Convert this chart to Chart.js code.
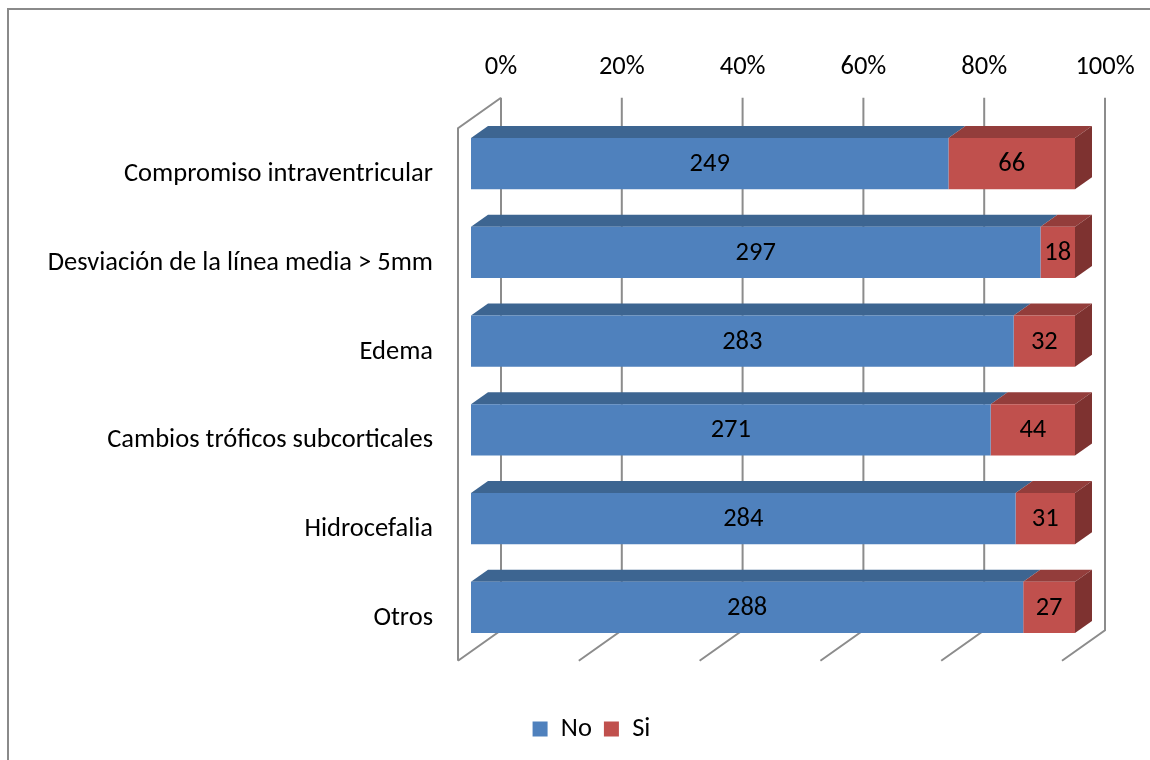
<!DOCTYPE html>
<html>
<head>
<meta charset="utf-8">
<title>Hallazgos tomográficos</title>
<script src="https://cdn.jsdelivr.net/npm/chart.js@4.4.1/dist/chart.umd.min.js"></script>
<style>
  html, body { margin: 0; padding: 0; background: #fff; overflow: hidden; }
  #frame { position: absolute; left: 7px; top: 8px; width: 1200px; height: 800px; border: 2px solid #8a8a8a; }
  #wrap { position: absolute; left: 0; top: 0; width: 1150px; height: 760px; }
</style>
</head>
<body>
<div id="frame"></div>
<div id="wrap"><canvas id="myChart" width="1150" height="760"></canvas></div>
<script>
const categories = [
  "Compromiso intraventricular",
  "Desviación de la línea media > 5mm",
  "Edema",
  "Cambios tróficos subcorticales",
  "Hidrocefalia",
  "Otros"
];
const noValues = [249, 297, 283, 271, 284, 288];
const siValues = [66, 18, 32, 44, 31, 27];
const tickValues = [0, 20, 40, 60, 80, 100];

const FONT = "Calibri, Carlito, Lato, sans-serif";
const FONT_SIZE = 26.5;
const GRID = "#8c8c8c";
// bar depth and wall offsets (px) for the fake 3d look
const BAR_DX = 17, BAR_DY = -12;
const BACK_DX = 30, BACK_DY = -21.5;
const FRONT_DX = -13, FRONT_DY = 9;
const LEGEND_SHIFT = 44;

const totals = noValues.map((v, i) => v + siValues[i]);
const toPct = (arr) => arr.map((v, i) => (v / totals[i]) * 100);
const rawValues = [noValues, siValues];

const faces = [
  { top: "#3d6591", side: "#35577e" },
  { top: "#933d3b", side: "#7e3230" }
];

const box3d = {
  id: "box3d",
  afterLayout(chart) {
    // legend sits a bit right of centre in the original
    chart.legend.left += LEGEND_SHIFT;
    chart.legend.right += LEGEND_SHIFT;
  },
  beforeDatasetsDraw(chart) {
    const ctx = chart.ctx;
    const xs = chart.scales.x;
    const { top, bottom } = chart.chartArea;
    ctx.save();
    ctx.strokeStyle = GRID;
    ctx.lineWidth = 2;
    ctx.beginPath();
    tickValues.forEach((v) => {
      const px = xs.getPixelForValue(v);
      ctx.moveTo(px + BACK_DX, top + BACK_DY);
      ctx.lineTo(px + BACK_DX, bottom + BACK_DY);
      ctx.lineTo(px + FRONT_DX, bottom + FRONT_DY);
    });
    const x0 = xs.getPixelForValue(0);
    ctx.moveTo(x0 + FRONT_DX, bottom + FRONT_DY);
    ctx.lineTo(x0 + FRONT_DX, top + FRONT_DY);
    ctx.lineTo(x0 + BACK_DX, top + BACK_DY);
    ctx.stroke();

    chart.data.datasets.forEach((ds, di) => {
      const meta = chart.getDatasetMeta(di);
      meta.data.forEach((bar) => {
        const left = Math.min(bar.base, bar.x);
        const right = Math.max(bar.base, bar.x);
        const t = bar.y - bar.height / 2;
        const b = bar.y + bar.height / 2;
        ctx.fillStyle = faces[di].top;
        ctx.beginPath();
        ctx.moveTo(left, t);
        ctx.lineTo(right, t);
        ctx.lineTo(right + BAR_DX, t + BAR_DY);
        ctx.lineTo(left + BAR_DX, t + BAR_DY);
        ctx.closePath();
        ctx.fill();
        if (di === chart.data.datasets.length - 1) {
          ctx.fillStyle = faces[di].side;
          ctx.beginPath();
          ctx.moveTo(right, t);
          ctx.lineTo(right + BAR_DX, t + BAR_DY);
          ctx.lineTo(right + BAR_DX, b + BAR_DY);
          ctx.lineTo(right, b);
          ctx.closePath();
          ctx.fill();
        }
      });
    });
    ctx.restore();
  },
  afterDatasetsDraw(chart) {
    const ctx = chart.ctx;
    ctx.save();
    ctx.fillStyle = "#000";
    ctx.font = FONT_SIZE + "px " + FONT;
    ctx.textAlign = "center";
    ctx.textBaseline = "middle";
    chart.data.datasets.forEach((ds, di) => {
      chart.getDatasetMeta(di).data.forEach((bar, i) => {
        const cx = (bar.base + bar.x) / 2;
        ctx.fillText(String(rawValues[di][i]), cx, bar.y + 1);
      });
    });
    ctx.restore();
  }
};

const ctx = document.getElementById("myChart").getContext("2d");
const chart = new Chart(ctx, {
  type: "bar",
  data: {
    labels: categories,
    datasets: [
      {
        label: "No",
        data: toPct(noValues),
        backgroundColor: "#4f81bd",
        xAxisID: "x",
        barPercentage: 0.577,
        categoryPercentage: 1
      },
      {
        label: "Si",
        data: toPct(siValues),
        backgroundColor: "#c0504d",
        xAxisID: "x",
        barPercentage: 0.577,
        categoryPercentage: 1
      }
    ]
  },
  options: {
    indexAxis: "y",
    responsive: false,
    animation: false,
    devicePixelRatio: 1,
    layout: { padding: { left: 20, right: 75, top: 0, bottom: 7.75 } },
    scales: {
      x: {
        position: "top",
        stacked: true,
        min: 0,
        max: 100,
        grid: { display: false, drawTicks: false },
        border: { display: false },
        ticks: {
          stepSize: 20,
          padding: 36.4,
          labelOffset: BACK_DX,
          color: "#000",
          font: { family: FONT, size: FONT_SIZE },
          callback: (v) => v + "%"
        },
        afterFit: (s) => { s.height = 119.3; }
      },
      gap: {
        type: "linear",
        axis: "x",
        position: "bottom",
        grid: { display: false, drawTicks: false },
        border: { display: false },
        ticks: { display: false },
        afterFit: (s) => { s.height = 52.05; }
      },
      y: {
        stacked: true,
        grid: { display: false, drawTicks: false },
        border: { display: false },
        ticks: {
          padding: 38,
          labelOffset: 11,
          color: "#000",
          font: { family: FONT, size: FONT_SIZE }
        },
        afterFit: (s) => { s.width = 451; }
      }
    },
    plugins: {
      legend: {
        position: "bottom",
        labels: {
          boxWidth: 15,
          boxHeight: 15,
          padding: 12,
          color: "#000",
          font: { family: FONT, size: FONT_SIZE }
        }
      },
      tooltip: { enabled: false }
    }
  },
  plugins: [box3d]
});
</script>
</body>
</html>
